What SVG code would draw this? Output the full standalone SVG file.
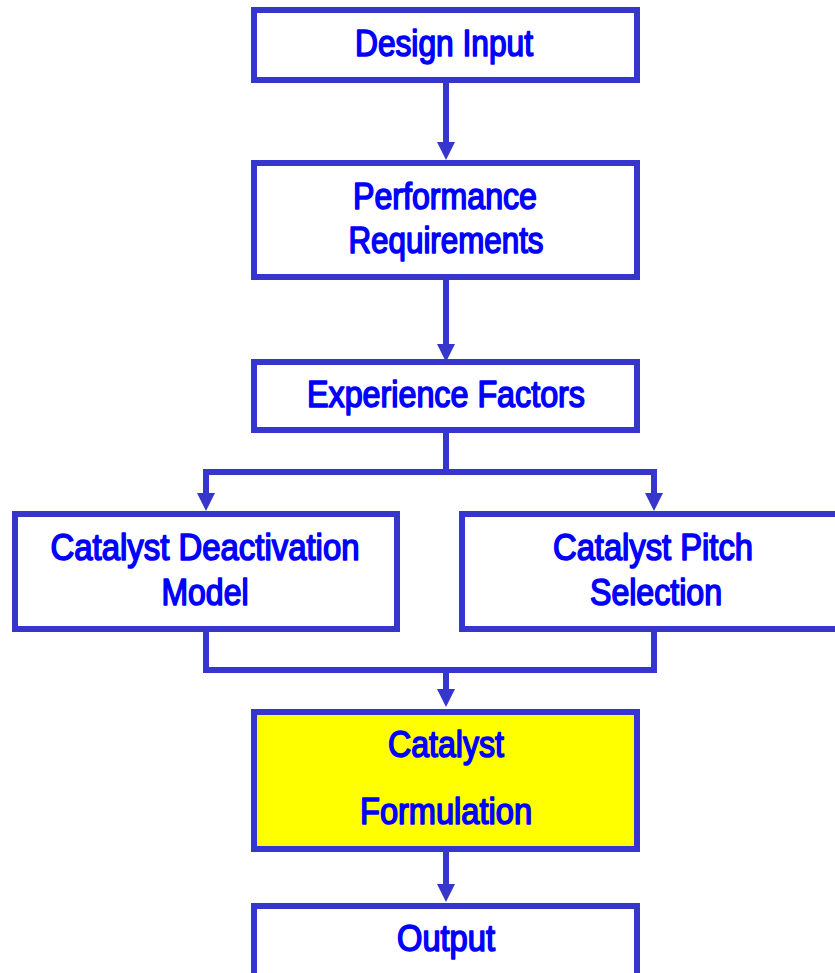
<svg xmlns="http://www.w3.org/2000/svg" width="835" height="973" viewBox="0 0 835 973">
<style>
.box{fill:#ffffff;stroke:#3636cc;stroke-width:6}
.hl{fill:#ffff00}
.lbl{font-family:"Liberation Sans",Arial,sans-serif;font-weight:normal;font-size:36px;fill:#0000ff;stroke:#0000ff;stroke-width:1.6;stroke-linejoin:round;text-anchor:middle}
.con{fill:none;stroke:#3636cc;stroke-width:6}
</style>
<defs>
<marker id="ah" markerUnits="userSpaceOnUse" markerWidth="20" markerHeight="20" viewBox="0 -10 20 20" refX="0" refY="0" orient="auto" overflow="visible">
<path d="M0,-9 L18,0 L0,9 Z" fill="#3636cc"/>
</marker>
</defs>
<rect width="835" height="973" fill="#ffffff"/>
<g id="connectors">
<path class="con" d="M446 82 V142" marker-end="url(#ah)"/>
<path class="con" d="M446 280 V344" marker-end="url(#ah)"/>
<path class="con" d="M446 433 V472 H206 V493" marker-end="url(#ah)"/>
<path class="con" d="M446 472 H654 V493" marker-end="url(#ah)"/>
<path class="con" d="M206 631 V670 H654 V631"/>
<path class="con" d="M446 670 V689" marker-end="url(#ah)"/>
<path class="con" d="M446 852 V884" marker-end="url(#ah)"/>
</g>
<g id="design-input">
<rect class="box" x="254" y="10" width="383" height="70"/>
<text class="lbl" x="444" y="56" textLength="178" lengthAdjust="spacingAndGlyphs">Design Input</text>
</g>
<g id="performance-requirements">
<rect class="box" x="254" y="163" width="383" height="114"/>
<text class="lbl" x="445" y="209" textLength="184" lengthAdjust="spacingAndGlyphs">Performance</text>
<text class="lbl" x="446" y="253" textLength="195" lengthAdjust="spacingAndGlyphs">Requirements</text>
</g>
<g id="experience-factors">
<rect class="box" x="254" y="362" width="383" height="68"/>
<text class="lbl" x="446" y="407" textLength="278" lengthAdjust="spacingAndGlyphs">Experience Factors</text>
</g>
<g id="catalyst-deactivation-model">
<rect class="box" x="15" y="514" width="382" height="115"/>
<text class="lbl" x="205" y="560" textLength="309" lengthAdjust="spacingAndGlyphs">Catalyst Deactivation</text>
<text class="lbl" x="205" y="605" textLength="87" lengthAdjust="spacingAndGlyphs">Model</text>
</g>
<g id="catalyst-pitch-selection">
<rect class="box" x="462" y="514" width="384" height="115"/>
<text class="lbl" x="653" y="560" textLength="200" lengthAdjust="spacingAndGlyphs">Catalyst Pitch</text>
<text class="lbl" x="656" y="605" textLength="132" lengthAdjust="spacingAndGlyphs">Selection</text>
</g>
<g id="catalyst-formulation">
<rect class="box hl" x="254" y="712" width="383" height="137"/>
<text class="lbl" x="446" y="757" textLength="116" lengthAdjust="spacingAndGlyphs">Catalyst</text>
<text class="lbl" x="446" y="824" textLength="172" lengthAdjust="spacingAndGlyphs">Formulation</text>
</g>
<g id="output">
<rect class="box" x="254" y="906" width="383" height="100"/>
<text class="lbl" x="446" y="951" textLength="98" lengthAdjust="spacingAndGlyphs">Output</text>
</g>
</svg>
